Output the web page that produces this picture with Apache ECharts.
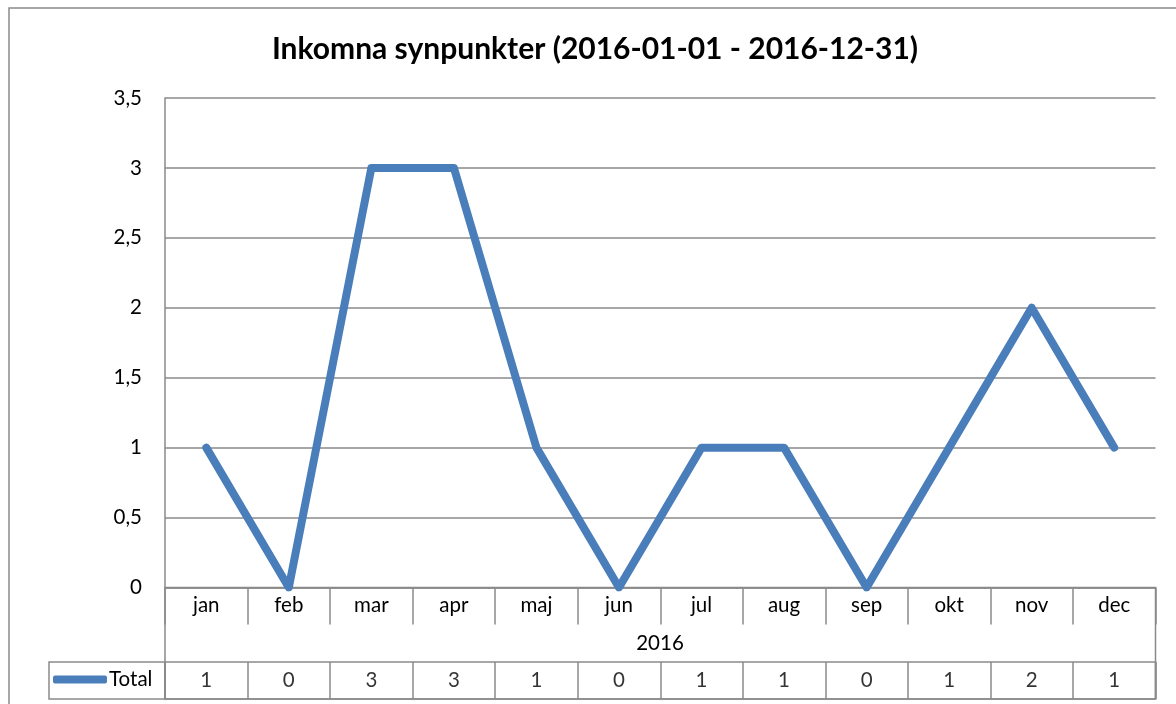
<!DOCTYPE html>
<html lang="sv">
<head>
<meta charset="utf-8">
<title>Inkomna synpunkter</title>
<script src="https://cdn.jsdelivr.net/npm/echarts@6/dist/echarts.min.js"></script>
<style>
  html, body { margin: 0; padding: 0; background: #fff; }
  #main { width: 1176px; height: 704px; }
</style>
</head>
<body>
<div id="main"></div>
<script type="text/javascript">
// data
var months = ['jan', 'feb', 'mar', 'apr', 'maj', 'jun', 'jul', 'aug', 'sep', 'okt', 'nov', 'dec'];
var totals = [1, 0, 3, 3, 1, 0, 1, 1, 0, 1, 2, 1];
var yearLabel = '2016';
var seriesName = 'Total';
var chartTitle = 'Inkomna synpunkter (2016-01-01 - 2016-12-31)';

var gray = '#8a8a8a';
var blue = '#4a7ebb';
var font = 'Lato, "Liberation Sans", sans-serif';
var fs = 20.5;

var myChart = echarts.init(document.getElementById('main'));

// table row: value at middle of each cell
var tableData = totals.map(function (v, i) { return [months[i], 0.5, v]; });

var option = {
    backgroundColor: '#fff',
    animation: false,
    title: {
        text: chartTitle,
        left: 590,
        top: 29,
        textAlign: 'center',
        textStyle: { fontFamily: font, fontWeight: 'bold', fontSize: 30, color: '#000' }
    },
    legend: {
        left: 53,
        top: 669,
        padding: 0,
        itemWidth: 54,
        itemHeight: 8,
        itemGap: 0,
        icon: 'roundRect',
        data: [seriesName],
        textStyle: { fontFamily: font, fontSize: fs, color: '#000', padding: [0, 0, 0, -3] }
    },
    grid: [
        { left: 165, right: 20.5, top: 98, bottom: 116.5, containLabel: false },
        { left: 165, right: 20.5, top: 587.5, bottom: 5, show: true, borderColor: gray, borderWidth: 1.5, backgroundColor: 'transparent' },
        { left: 165, right: 20.5, top: 662, bottom: 5, show: true, borderColor: gray, borderWidth: 1.5, backgroundColor: 'transparent' }
    ],
    xAxis: [
        {
            type: 'category', gridIndex: 0, data: months, boundaryGap: true,
            axisLine: { lineStyle: { color: gray, width: 1.5 } },
            axisTick: { show: true, interval: 0, length: 37, lineStyle: { color: gray, width: 1.5 } },
            axisLabel: { interval: 0, margin: 7, fontFamily: font, fontSize: fs, color: '#000' },
            splitLine: { show: false }
        },
        {
            type: 'category', gridIndex: 1, data: months, show: false
        },
        {
            type: 'category', gridIndex: 2, data: months, boundaryGap: true,
            axisLine: { show: false }, axisTick: { show: false }, axisLabel: { show: false },
            splitLine: { show: true, interval: 0, lineStyle: { color: gray, width: 1.5 } }
        }
    ],
    yAxis: [
        {
            type: 'value', gridIndex: 0, min: 0, max: 3.5, interval: 0.5,
            axisLine: { show: true, lineStyle: { color: gray, width: 1.5 } },
            axisTick: { show: false },
            axisLabel: {
                margin: 23, fontFamily: font, fontSize: fs, color: '#000',
                formatter: function (v) { return String(v).replace('.', ','); }
            },
            splitLine: { lineStyle: { color: gray, width: 1.5 } }
        },
        { type: 'value', gridIndex: 1, min: 0, max: 1, show: false },
        { type: 'value', gridIndex: 2, min: 0, max: 1, show: false }
    ],
    graphic: [
        // outer chart border
        { type: 'rect', shape: { x: 9, y: 8, width: 1200, height: 720 }, style: { fill: 'none', stroke: gray, lineWidth: 1.5 }, silent: true },
        // legend cell of the data table
        { type: 'rect', shape: { x: 49, y: 662, width: 116, height: 37 }, style: { fill: 'none', stroke: gray, lineWidth: 1.5 }, silent: true },
        { type: 'text', x: 660, y: 643, style: { text: yearLabel, fill: '#000', font: fs + 'px ' + font, align: 'center', verticalAlign: 'middle' }, silent: true }
    ],
    series: [
        {
            name: seriesName, type: 'line', xAxisIndex: 0, yAxisIndex: 0,
            data: totals,
            symbol: 'none',
            lineStyle: { color: blue, width: 8, join: 'round', cap: 'round' },
            itemStyle: { color: blue }
        },
        {
            name: 'table', type: 'scatter', xAxisIndex: 2, yAxisIndex: 2,
            data: tableData, symbolSize: 0, silent: true,
            label: {
                show: true, position: 'inside', fontFamily: font, fontSize: fs, color: '#000',
                formatter: function (p) { return p.data[2]; }
            }
        }
    ]
};

myChart.setOption(option);
</script>
</body>
</html>
